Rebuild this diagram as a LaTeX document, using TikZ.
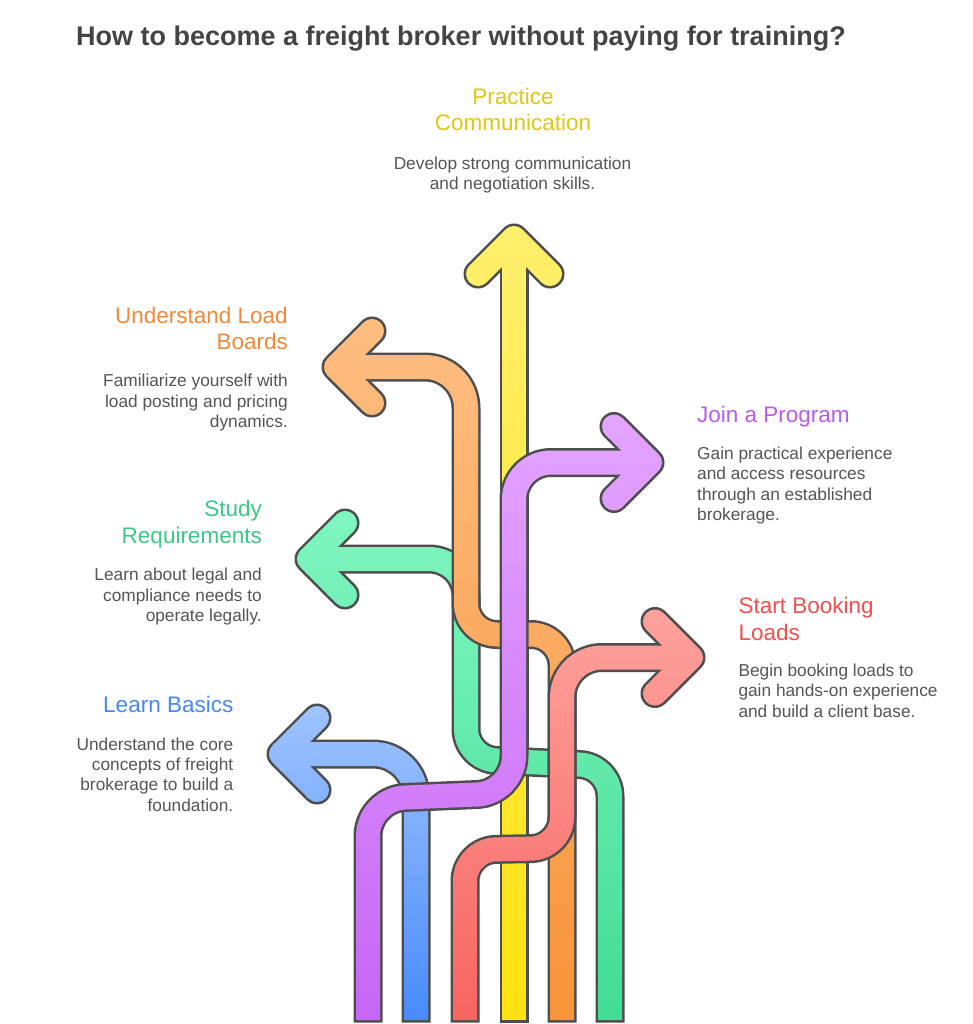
\documentclass[tikz,border=0pt]{standalone}
\usepackage{fontspec}
\setmainfont{Liberation Sans}
\definecolor{olc}{RGB}{78,78,78}
\definecolor{yelT}{RGB}{255,240,110}\definecolor{yelB}{RGB}{255,226,15}
\definecolor{bluT}{RGB}{160,197,255}\definecolor{bluB}{RGB}{72,138,255}
\definecolor{grnT}{RGB}{128,247,192}\definecolor{grnB}{RGB}{66,220,148}
\definecolor{ornT}{RGB}{255,190,130}\definecolor{ornB}{RGB}{247,148,56}
\definecolor{redT}{RGB}{255,163,158}\definecolor{redB}{RGB}{247,100,96}
\definecolor{purT}{RGB}{228,165,255}\definecolor{purB}{RGB}{198,102,245}
\definecolor{pracC}{RGB}{222,200,22}
\definecolor{undC}{RGB}{240,138,58}
\definecolor{stuC}{RGB}{60,200,135}
\definecolor{lrnC}{RGB}{72,136,240}
\definecolor{joinC}{RGB}{183,92,235}
\definecolor{startC}{RGB}{240,80,80}
\definecolor{descC}{RGB}{85,85,85}
\definecolor{titleC}{RGB}{68,68,68}
\tikzset{
  outl/.style={draw=olc, line width=29pt, line join=round},
  colr/.style={line width=24pt, line join=round},
  shaftcap/.style={line cap=butt},
  headcap/.style={line cap=round},
  ttl/.style={anchor=base west, inner sep=0pt, text=titleC, font=\fontsize{27}{32}\selectfont\bfseries},
  hd/.style={inner sep=0pt, font=\fontsize{22.5}{27}\selectfont},
  ds/.style={inner sep=0pt, text=descC, font=\fontsize{17.3}{20.7}\selectfont},
}
\newcommand\gradarrow[6]{%
  \def\yb{1022.5}%
  \draw[outl, shaftcap] #5;
  \draw[outl, headcap] #6;
  \def\yb{1020}%
  \pgfmathsetmacro\bandh{(#4-#3)/24}%
  \foreach \i in {0,...,23}{%
    \pgfmathsetmacro\ya{\i==0 ? #3-40 : #3+\bandh*\i}%
    \pgfmathsetmacro\yz{\i==23 ? #4+40 : #3+\bandh*(\i+1)+0.7}%
    \pgfmathsetmacro\pc{100*(\i+0.5)/24}%
    \colorlet{cc}{#2!\pc!#1}%
    \begin{scope}
      \clip (-10,\ya) rectangle (990,\yz);
      \draw[colr, shaftcap, draw=cc] #5;
      \draw[colr, headcap, draw=cc] #6;
    \end{scope}
  }%
}
\begin{document}
\begin{tikzpicture}[x=1pt, y=-1pt]
\useasboundingbox[fill=white] (0,0) rectangle (972,1024);
% yellow: Practice Communication
\gradarrow{yelT}{yelB}{224}{1022}
  {(514,\yb) -- (514,238)}
  {(478,274) -- (514,238) -- (550,274)}
% blue: Learn Basics
\gradarrow{bluT}{bluB}{704}{1022}
  {[rounded corners=43pt] (416,\yb) -- (416,754) -- (281,754)}
  {(317,718) -- (281,754) -- (317,790)}
% green: Study Requirements
\gradarrow{grnT}{grnB}{509}{1022}
  {[rounded corners=30pt] (610,\yb) -- (610,766) -- (466,759) -- (466,640)
   [rounded corners=37pt] (466,660) -- (466,559) -- (309,559)}
  {(345,523) -- (309,559) -- (345,595)}
% orange: Understand Load Boards
\gradarrow{ornT}{ornB}{317}{1022}
  {[rounded corners=31pt] (562,\yb) -- (562,634.5) -- (466,634.5) -- (466,500)
   [rounded corners=41pt] (466,520) -- (466,367) -- (336,367)}
  {(372,331) -- (336,367) -- (372,403)}
% red: Start Booking Loads
\gradarrow{redT}{redB}{607}{1022}
  {[rounded corners=31pt] (465,\yb) -- (465,850) -- (562,848) -- (562,740)
   [rounded corners=40pt] (562,760) -- (562,657.5) -- (691,657.5)}
  {(655,621.5) -- (691,657.5) -- (655,693.5)}
% purple: Join a Program
\gradarrow{purT}{purB}{412}{1022}
  {[rounded corners=37pt] (368,\yb) -- (368,799) -- (514,793) -- (514,462.5) -- (650,462.5)}
  {(614,426.5) -- (650,462.5) -- (614,498.5)}
% title
\node[ttl] (title) at (76,46) {How to become a freight broker without paying for training?};
% Practice Communication
\node[hd, anchor=base, text=pracC] (p1) at (513,104.3) {Practice};
\node[hd, anchor=base, text=pracC] (p2) at (513,131) {Communication};
\node[ds, anchor=base] (p3) at (512.5,169.3) {Develop strong communication};
\node[ds, anchor=base] (p4) at (512.5,190) {and negotiation skills.};
% Understand Load Boards
\node[hd, anchor=base east, text=undC] (u1) at (288,323) {Understand Load};
\node[hd, anchor=base east, text=undC] (u2) at (288,349) {Boards};
\node[ds, anchor=base east] (u3) at (288,386.7) {Familiarize yourself with};
\node[ds, anchor=base east] (u4) at (288,407.3) {load posting and pricing};
\node[ds, anchor=base east] (u5) at (288,427) {dynamics.};
% Study Requirements
\node[hd, anchor=base east, text=stuC] (s1) at (262,516.7) {Study};
\node[hd, anchor=base east, text=stuC] (s2) at (262,543.3) {Requirements};
\node[ds, anchor=base east] (s3) at (262,580) {Learn about legal and};
\node[ds, anchor=base east] (s4) at (262,601) {compliance needs to};
\node[ds, anchor=base east] (s5) at (262,621) {operate legally.};
% Learn Basics
\node[hd, anchor=base east, text=lrnC] (l1) at (233.5,712.7) {Learn Basics};
\node[ds, anchor=base east] (l2) at (233.5,750) {Understand the core};
\node[ds, anchor=base east] (l3) at (233.5,770) {concepts of freight};
\node[ds, anchor=base east] (l4) at (233.5,790.7) {brokerage to build a};
\node[ds, anchor=base east] (l5) at (233.5,811.7) {foundation.};
% Join a Program
\node[hd, anchor=base west, text=joinC] (j1) at (697,422.3) {Join a Program};
\node[ds, anchor=base west] (j2) at (697,459) {Gain practical experience};
\node[ds, anchor=base west] (j3) at (697,479) {and access resources};
\node[ds, anchor=base west] (j4) at (697,500) {through an established};
\node[ds, anchor=base west] (j5) at (697,520) {brokerage.};
% Start Booking Loads
\node[hd, anchor=base west, text=startC] (b1) at (738.3,613.3) {Start Booking};
\node[hd, anchor=base west, text=startC] (b2) at (738.3,640) {Loads};
\node[ds, anchor=base west] (b3) at (738.3,676.7) {Begin booking loads to};
\node[ds, anchor=base west] (b4) at (738.3,696.7) {gain hands-on experience};
\node[ds, anchor=base west] (b5) at (738.3,717.7) {and build a client base.};
\end{tikzpicture}
\end{document}
